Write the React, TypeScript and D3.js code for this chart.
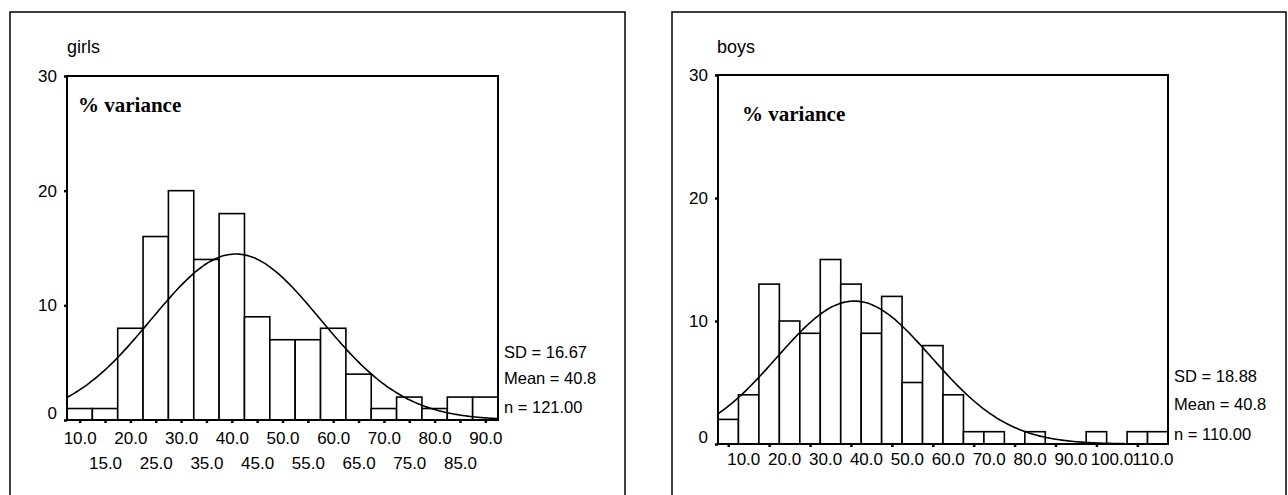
import React, { useRef, useEffect } from "react";
import * as d3 from "d3";

// girls histogram (bin centres, counts per bin of width 5)
const girlsBins = [10, 15, 20, 25, 30, 35, 40, 45, 50, 55, 60, 65, 70, 75, 80, 85, 90];
const girlsCounts = [1, 1, 8, 16, 20, 14, 18, 9, 7, 7, 8, 4, 1, 2, 1, 2, 2];
const girlsStats = { sd: 16.67, mean: 40.8, n: 121 };
const girlsStatLabels = ["SD = 16.67", "Mean = 40.8", "n = 121.00"];

// boys histogram
const boysBins = [10, 15, 20, 25, 30, 35, 40, 45, 50, 55, 60, 65, 70, 75, 80, 85, 90, 95, 100, 105, 110, 115];
const boysCounts = [2, 4, 13, 10, 9, 15, 13, 9, 12, 5, 8, 4, 1, 1, 0, 1, 0, 0, 1, 0, 1, 1];
const boysStats = { sd: 18.88, mean: 40.8, n: 110 };
const boysStatLabels = ["SD = 18.88", "Mean = 40.8", "n = 110.00"];

const yTicks = [0, 10, 20, 30];
const girlsXTicks = girlsBins;
const boysXTicks = [10, 20, 30, 40, 50, 60, 70, 80, 90, 100, 110];

const BIN = 5;
const SANS = "'Liberation Sans', Arial, sans-serif";

const App = () => {
  const ref = useRef(null);

  useEffect(() => {
    const svg = d3.select(ref.current);
    svg.selectAll("*").remove();

    const panels = [
      {
        title: "girls", bins: girlsBins, counts: girlsCounts, stats: girlsStats, statLabels: girlsStatLabels,
        xTicks: girlsXTicks, twoRows: true, labelShift: 0,
        box: { x: 10, y: 12, w: 615 },
        plot: { x0: 67, x1: 498, top: 76, bottom: 420 },
        titlePos: [67, 53], varPos: [78, 112], statX: 504, statY: [352, 378, 407],
      },
      {
        title: "boys", bins: boysBins, counts: boysCounts, stats: boysStats, statLabels: boysStatLabels,
        xTicks: boysXTicks, twoRows: false, labelShift: 15,
        box: { x: 672, y: 12, w: 614 },
        plot: { x0: 718, x1: 1168, top: 75, bottom: 444 },
        titlePos: [717, 53], varPos: [742, 121], statX: 1174, statY: [376, 404, 434],
      },
    ];

    panels.forEach((p) => {
      const g = svg.append("g");

      // outer frame (open at the bottom, runs off the page)
      g.append("rect")
        .attr("x", p.box.x).attr("y", p.box.y)
        .attr("width", p.box.w).attr("height", 520)
        .attr("fill", "none").attr("stroke", "#000").attr("stroke-width", 1.5);

      const lo = p.bins[0] - BIN / 2;
      const hi = p.bins[p.bins.length - 1] + BIN / 2;
      const x = d3.scaleLinear().domain([lo, hi]).range([p.plot.x0, p.plot.x1]);
      const y = d3.scaleLinear().domain([0, 30]).range([p.plot.bottom, p.plot.top]);

      // bars
      g.selectAll(".bar")
        .data(p.bins.map((c, i) => ({ c, v: p.counts[i] })).filter((d) => d.v > 0))
        .join("rect")
        .attr("class", "bar")
        .attr("x", (d) => x(d.c - BIN / 2))
        .attr("y", (d) => y(d.v))
        .attr("width", (d) => x(d.c + BIN / 2) - x(d.c - BIN / 2))
        .attr("height", (d) => y(0) - y(d.v))
        .attr("fill", "#fff").attr("stroke", "#000").attr("stroke-width", 1.6);

      // fitted normal curve from the printed stats
      const { sd, mean, n } = p.stats;
      const curve = d3.range(lo, hi + 0.01, 0.5).map((t) => [
        t,
        (n * BIN) / (sd * Math.sqrt(2 * Math.PI)) * Math.exp(-0.5 * ((t - mean) / sd) ** 2),
      ]);
      g.append("path")
        .datum(curve)
        .attr("d", d3.line().x((d) => x(d[0])).y((d) => y(d[1])).curve(d3.curveBasis))
        .attr("fill", "none").attr("stroke", "#000").attr("stroke-width", 1.6);

      // plot frame
      g.append("rect")
        .attr("x", p.plot.x0).attr("y", p.plot.top)
        .attr("width", p.plot.x1 - p.plot.x0).attr("height", p.plot.bottom - p.plot.top)
        .attr("fill", "none").attr("stroke", "#000").attr("stroke-width", 2);

      // y axis
      const ya = g.append("g")
        .attr("transform", `translate(${p.plot.x0},0)`)
        .call(d3.axisLeft(y).tickValues(yTicks).tickSize(3).tickPadding(7).tickFormat(d3.format("d")));
      ya.select(".domain").remove();
      ya.selectAll("line").attr("stroke-width", 2.5);
      ya.selectAll("text").style("font-family", SANS).style("font-size", "17px").attr("fill", "#000");
      ya.selectAll(".tick").filter((d) => d === 0).select("text").attr("dy", "-0.1em");

      // x axis
      const xa = g.append("g")
        .attr("transform", `translate(0,${p.plot.bottom})`)
        .call(d3.axisBottom(x).tickValues(p.xTicks).tickSize(3).tickFormat(d3.format(".1f")));
      xa.select(".domain").remove();
      xa.selectAll("line").attr("stroke-width", 2.5);
      xa.selectAll("text")
        .style("font-family", SANS).style("font-size", "17px").attr("fill", "#000")
        .attr("x", p.labelShift)
        .attr("y", (d) => (p.twoRows && d % 10 !== 0 ? 43 : p.twoRows ? 18 : 15))
        .attr("dy", "0.35em");

      // titles
      g.append("text")
        .attr("x", p.titlePos[0]).attr("y", p.titlePos[1])
        .style("font-family", SANS).style("font-size", "18px")
        .text(p.title);
      g.append("text")
        .attr("x", p.varPos[0]).attr("y", p.varPos[1])
        .style("font-family", "'Liberation Serif', 'Times New Roman', serif")
        .style("font-size", "21px").style("font-weight", "bold")
        .text("% variance");

      // stats block
      g.selectAll(".stat")
        .data(p.statLabels)
        .join("text")
        .attr("class", "stat")
        .attr("x", p.statX)
        .attr("y", (d, i) => p.statY[i])
        .attr("dy", "0.35em")
        .style("font-family", SANS).style("font-size", "16.5px")
        .text((d) => d);
    });
  }, []);

  return (
    <svg
      ref={ref}
      width={1288}
      height={495}
      style={{ position: "absolute", left: 0, top: 0, background: "#fff" }}
    ></svg>
  );
};

export default App;
